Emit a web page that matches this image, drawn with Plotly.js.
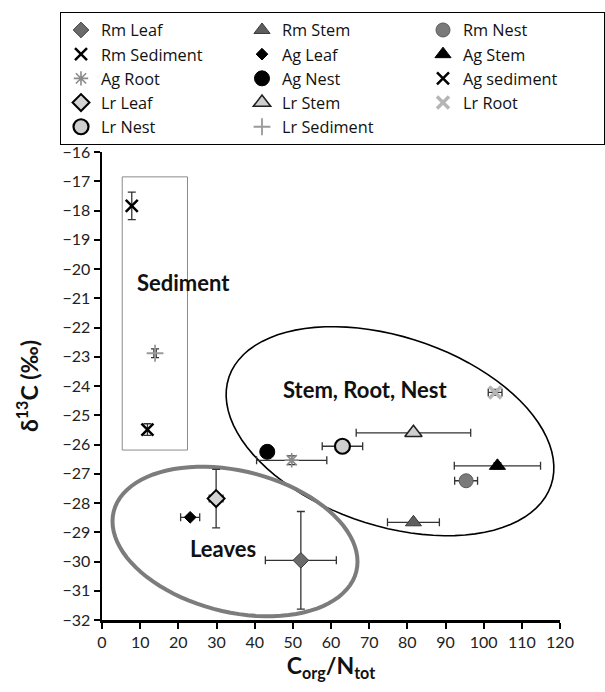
<!DOCTYPE html>
<html>
<head>
<meta charset="utf-8">
<script src="https://cdn.plot.ly/plotly-3.0.1.min.js"></script>
<style>
html,body{margin:0;padding:0;background:#fff;}
#chart{width:605px;height:692px;}
</style>
</head>
<body>
<div id="chart"></div>
<script>
// ---- data ----
const seriesNames = ["Rm Leaf","Rm Stem","Rm Nest","Rm Sediment","Ag Leaf","Ag Stem","Ag Root","Ag Nest","Ag sediment","Lr Leaf","Lr Stem","Lr Root","Lr Nest","Lr Sediment"];
const cnRatio    = [52.1, 81.6, 95.4, 7.8, 23.1, 103.6, 49.7, 43.3, 11.9, 29.9, 81.6, 103.0, 63.0, 13.9];
const delta13C   = [-29.96, -28.66, -27.24, -17.84, -28.49, -26.73, -26.54, -26.25, -25.49, -27.85, -25.60, -24.22, -26.06, -22.88];
const cnError    = [9.3, 6.8, 3.0, 0, 2.5, 11.3, 9.2, 1.2, 0, 1.8, 15.0, 1.8, 5.3, 0.3];
const deltaError = [1.67, 0.05, 0.05, 0.47, 0.05, 0.1, 0.15, 0.1, 0.2, 1.0, 0.05, 0.1, 0.1, 0.15];
const xTickVals  = [0,10,20,30,40,50,60,70,80,90,100,110,120];
const yTickVals  = [-32,-31,-30,-29,-28,-27,-26,-25,-24,-23,-22,-21,-20,-19,-18,-17,-16];
const groupLabels = ["Sediment","Stem, Root, Nest","Leaves"];
const groupLabelX = [21.3, 69.1, 31.8];
const groupLabelY = [-20.47, -24.13, -29.57];

// ---- styles ----
const symbols = ["diamond","triangle-up","circle","x-thin-open","diamond","triangle-up","asterisk-open","circle","x-thin-open","diamond","triangle-up","x-thin-open","circle","cross-thin-open"];
const fills   = ["#6b6b6b","#5e5e5e","#7a7a7a","#000","#000","#000","#8a8a8a","#000","#000","#d4d4d4","#cfcfcf","#b5b5b5","#cfcfcf","#9a9a9a"];
const lines   = ["#3a3a3a","#3a3a3a","#5a5a5a","#000","#000","#000","#8a8a8a","#000","#000","#000","#222","#b5b5b5","#000","#9a9a9a"];
const lineW   = [1,1,1,2.5,1,1,1.6,1,2.5,2,1.6,3.5,2.2,1.8];
const sizes   = [12,14,14,12,9,14,12,15,12,13,15,12,15,12];

const FONT = "Lato, 'Open Sans', sans-serif";
const L = 102, R = 45, T = 149, B = 72, Wd = 605, Ht = 692;
const PW = Wd - L - R, PH = Ht - T - B;
const xr = [0,120], yr = [-32,-16];

function px2x(px){ return xr[0] + (px - L) / PW * (xr[1]-xr[0]); }
function py2y(py){ return yr[1] - (py - T) / PH * (yr[1]-yr[0]); }
function ellipsePath(cx, cy, a, b, deg){
  const th = deg * Math.PI / 180, n = 90;
  let d = "";
  for(let i=0;i<=n;i++){
    const t = 2*Math.PI*i/n;
    const ex = a*Math.cos(t), ey = b*Math.sin(t);
    const px = cx + ex*Math.cos(th) - ey*Math.sin(th);
    const py = cy + ex*Math.sin(th) + ey*Math.cos(th);
    d += (i===0?"M":"L") + px2x(px).toFixed(3) + "," + py2y(py).toFixed(3);
  }
  return d + "Z";
}

const traces = seriesNames.map((nm,i)=>({
  type:"scatter", mode:"markers", name:nm,
  x:[cnRatio[i]], y:[delta13C[i]],
  error_x:{type:"data", array:[cnError[i]], visible:cnError[i]>0, color:"#333", thickness:1.3, width:4},
  error_y:{type:"data", array:[deltaError[i]], visible:deltaError[i]>0, color:"#333", thickness:1.3, width:4},
  marker:{symbol:symbols[i], size:sizes[i], color:fills[i], line:{color:lines[i], width:lineW[i]}},
  cliponaxis:false
}));

const layout = {
  width:Wd, height:Ht,
  margin:{l:L, r:R, t:T, b:B},
  paper_bgcolor:"#fff", plot_bgcolor:"#fff",
  font:{family:FONT, color:"#111"},
  showlegend:true,
  legend:{
    orientation:"h", x:-0.072, xanchor:"left", y:1.2994, yanchor:"top",
    bordercolor:"#000", borderwidth:1, bgcolor:"#fff",
    entrywidth:136, entrywidthmode:"pixels",
    font:{family:"'Open Sans', Lato, sans-serif", size:16.3, color:"#111"},
    traceorder:"normal"
  },
  xaxis:{
    range:xr, tickvals:xTickVals, ticks:"outside", ticklen:6, tickwidth:2, tickcolor:"#000",
    showline:true, linewidth:2.5, linecolor:"#000", showgrid:false, zeroline:false,
    tickfont:{size:16, color:"#222", family:FONT},
    title:{text:"C<sub>org</sub>/N<sub>tot</sub>", font:{size:23, family:FONT, weight:"bold", color:"#111"}, standoff:8}
  },
  xaxis2:{
    overlaying:"x", anchor:"y", side:"bottom", range:xr, tickvals:xTickVals,
    ticks:"inside", ticklen:6, tickwidth:2, tickcolor:"#000", showticklabels:false,
    showline:false, showgrid:false, zeroline:false
  },
  yaxis:{
    range:yr, tickvals:yTickVals, ticks:"outside", ticklen:6, tickwidth:2, tickcolor:"#000",
    showline:true, linewidth:2.5, linecolor:"#000", showgrid:false, zeroline:false,
    tickfont:{size:16, color:"#222", family:FONT},
    title:{text:"δ<sup>13</sup>C (‰)", font:{size:23, family:FONT, weight:"bold", color:"#111"}, standoff:18}
  },
  yaxis2:{
    overlaying:"y", anchor:"x", side:"left", range:yr, tickvals:yTickVals,
    ticks:"inside", ticklen:6, tickwidth:2, tickcolor:"#000", showticklabels:false,
    showline:false, showgrid:false, zeroline:false
  },
  shapes:[
    {type:"rect", xref:"x", yref:"y", x0:5.3, x1:22.4, y0:-26.19, y1:-16.85, line:{color:"#8a8a8a", width:1}, layer:"below"},
    {type:"path", xref:"x", yref:"y", path:ellipsePath(390, 430, 170, 95, 18.7), line:{color:"#000", width:1.6}, layer:"below"},
    {type:"path", xref:"x", yref:"y", path:ellipsePath(235, 541, 125, 71, 14), line:{color:"#7c7c7c", width:4}, layer:"below"}
  ],
  annotations: groupLabels.map((t,i)=>({
    x:groupLabelX[i], y:groupLabelY[i], xref:"x", yref:"y", text:t, showarrow:false,
    font:{size:22, family:FONT, weight:"bold", color:"#111"}
  }))
};

Plotly.newPlot("chart", traces, layout, {displayModeBar:false, staticPlot:true});
</script>
</body>
</html>
